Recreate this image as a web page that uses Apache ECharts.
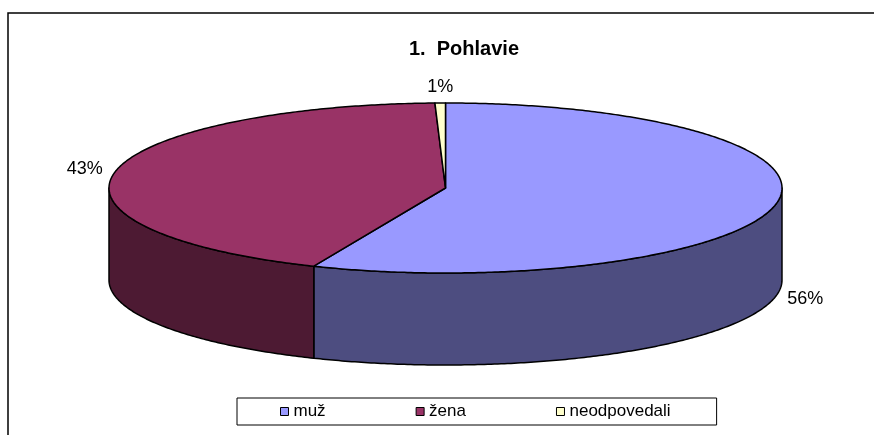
<!DOCTYPE html>
<html>
<head>
<meta charset="utf-8">
<script src="https://cdn.jsdelivr.net/npm/echarts@6/dist/echarts.min.js"></script>
<style>
  html, body { margin: 0; padding: 0; background: #fff; }
  #chart { width: 874px; height: 435px; }
</style>
</head>
<body>
<div id="chart"></div>
<script>
const categories = ['muž', 'žena', 'neodpovedali'];
const values = [56.4, 43.1, 0.5];
const topColors = ['#9999FF', '#993366', '#FFFFCC'];
const sideColors = ['#4D4D80', '#4D1A33', '#80806A'];

const FONT = '"Liberation Sans", Arial, sans-serif';

const total = values.reduce((a, b) => a + b, 0);
// start angle of each slice, clockwise from 12 o'clock
const starts = values.map((_, i) => values.slice(0, i).reduce((a, b) => a + b, 0) / total * Math.PI * 2);

// flat ellipse of the pie top + wall height
const pie = { cx: 445.5, cy: 188, rx: 336.5, ry: 85, depth: 92 };

function pt(a, dy) {
  return [pie.cx + pie.rx * Math.sin(a), pie.cy - pie.ry * Math.cos(a) + (dy || 0)];
}

function arc(a0, a1, dy) {
  const n = Math.max(2, Math.ceil(Math.abs(a1 - a0) / 0.01));
  const out = [];
  for (let k = 0; k <= n; k++) out.push(pt(a0 + (a1 - a0) * k / n, dy));
  return out;
}

function renderSlice(i) {
  return function (params, api) {
    const v = api.value(0);
    const a0 = starts[i];
    const a1 = a0 + v / total * Math.PI * 2;
    const line = { stroke: '#000', lineWidth: 1.5, lineJoin: 'round' };
    const children = [];

    // visible wall is the front half only
    const s0 = Math.max(a0, Math.PI / 2);
    const s1 = Math.min(a1, Math.PI * 1.5);
    if (s1 > s0) {
      children.push({
        type: 'polygon', z2: 1,
        shape: { points: arc(s0, s1, 0).concat(arc(s1, s0, pie.depth)) },
        style: Object.assign({ fill: sideColors[i] }, line),
      });
    }
    children.push({
      type: 'polygon', z2: 10,
      shape: { points: [[pie.cx, pie.cy]].concat(arc(a0, a1, 0)) },
      style: Object.assign({ fill: topColors[i] }, line),
    });

    const m = (a0 + a1) / 2;
    const s = Math.sin(m), c = Math.cos(m);
    const p = pt(m, c < 0 ? pie.depth : 0);
    const side = Math.abs(s) < 0.3 ? 0 : Math.sign(s);
    children.push({
      type: 'text', z2: 20,
      x: p[0] + 12 * side,
      y: p[1] - 15 * c - 1,
      style: {
        text: Math.round(v / total * 100) + '%',
        fill: '#000', font: '18px ' + FONT,
        align: side === 0 ? 'center' : (side > 0 ? 'left' : 'right'),
        verticalAlign: 'middle',
      },
    });
    return { type: 'group', children: children };
  };
}

const chart = echarts.init(document.getElementById('chart'));
chart.setOption({
  animation: false,
  title: {
    text: '1.  Pohlavie',
    left: 459,
    textAlign: 'center',
    top: 34,
    textStyle: { fontFamily: FONT, fontSize: 20, fontWeight: 'bold', color: '#000' },
  },
  legend: {
    data: categories,
    left: 237,
    bottom: 10,
    icon: 'rect',
    itemWidth: 8,
    itemHeight: 8,
    itemGap: 90,
    selectedMode: false,
    itemStyle: { borderColor: '#000', borderWidth: 1 },
    textStyle: { fontFamily: FONT, fontSize: 17, color: '#000' },
    borderColor: '#000',
    borderWidth: 1,
    padding: [5, 46, 5, 43],
  },
  graphic: [{
    type: 'rect', silent: true, z: 0,
    shape: { x: 8, y: 13, width: 900, height: 500 },
    style: { fill: 'none', stroke: '#000', lineWidth: 1.5 },
  }],
  series: categories.map((name, i) => ({
    type: 'custom',
    name: name,
    coordinateSystem: 'none',
    itemStyle: { color: topColors[i] },
    renderItem: renderSlice(i),
    data: [values[i]],
  })),
});
</script>
</body>
</html>
